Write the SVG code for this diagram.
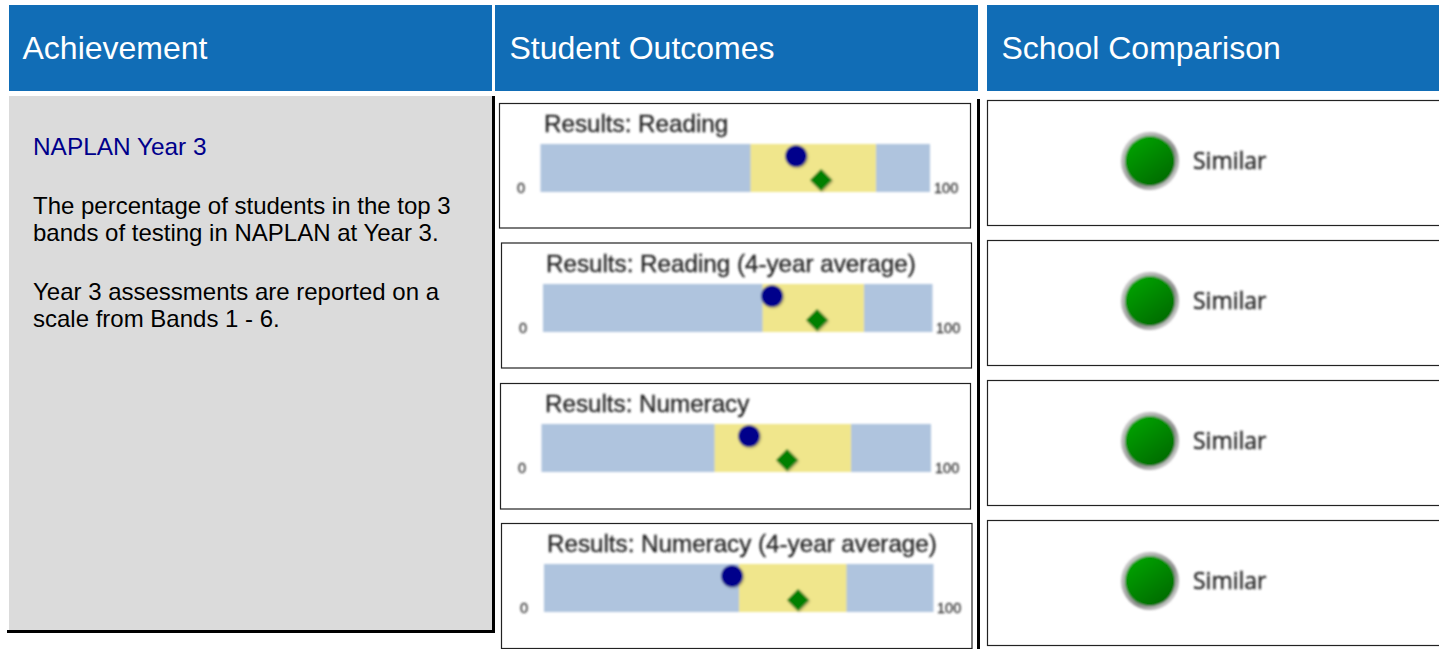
<svg xmlns="http://www.w3.org/2000/svg" width="1439" height="649" viewBox="0 0 1439 649">
<style>
.hdr{fill:#116db6}
.ht{font:32px "Liberation Sans",Arial,sans-serif;fill:#fff}
.body{font:24px "Liberation Sans",Arial,sans-serif;fill:#000}
.panel{fill:#fff;stroke:#222;stroke-width:1.2}
.bar{fill:#afc4de}
.band{fill:#f0e68c}
.dot{fill:#00008b}
.dia{fill:#008000}
.rt{font:24.2px "Liberation Sans",Arial,sans-serif;fill:#222;stroke:#222;stroke-width:.3}
.ax{font:14.5px "Liberation Sans",Arial,sans-serif;fill:#333;stroke:#333;stroke-width:.3}
.sim{font:23px "Open Sans",sans-serif;fill:#222;stroke:#222;stroke-width:.4}
.rim{fill:url(#rim)}
.led{fill:url(#led)}
.soft{filter:url(#soft)}
</style>
<defs>
<filter id="soft" x="-5%" y="-5%" width="110%" height="110%"><feGaussianBlur stdDeviation="0.8"/></filter>
<filter id="sh" x="-30%" y="-30%" width="160%" height="160%"><feDropShadow dx="1" dy="1" stdDeviation="0.8" flood-color="#000" flood-opacity="0.35"/></filter>
<linearGradient id="rim" x1="0" y1="0" x2="1" y2="1"><stop offset="0" stop-color="#d8d8d8"/><stop offset="0.6" stop-color="#8f8f8f"/><stop offset="1" stop-color="#e4e4e4"/></linearGradient>
<linearGradient id="led" x1="0.2" y1="0.1" x2="0.8" y2="0.95"><stop offset="0" stop-color="#00a000"/><stop offset="1" stop-color="#006a00"/></linearGradient>
</defs>
<rect width="1439" height="649" fill="#fff"/>
<g id="header-achievement"><rect class="hdr" x="9" y="5" width="483" height="86"/><text class="ht" x="22.500" y="59">Achievement</text></g>
<g id="header-outcomes"><rect class="hdr" x="495" y="5" width="483" height="86"/><text class="ht" x="509.500" y="59">Student Outcomes</text></g>
<g id="header-comparison"><rect class="hdr" x="987" y="5" width="452" height="86"/><text class="ht" x="1001.500" y="59">School Comparison</text></g>
<g id="description">
<rect x="9" y="96" width="483" height="534" fill="#dbdbdb"/>
<path d="M7 631.500H493.500V96" fill="none" stroke="#000" stroke-width="3"/>
<text class="body" x="33" y="155" style="fill:#00008b;font-size:24.4px">NAPLAN Year 3</text>
<text class="body" x="33" y="213.500">The percentage of students in the top 3</text>
<text class="body" x="33" y="240.500">bands of testing in NAPLAN at Year 3.</text>
<text class="body" x="33" y="299.500">Year 3 assessments are reported on a</text>
<text class="body" x="33" y="326.500">scale from Bands 1 - 6.</text>
</g>
<rect x="977" y="99" width="3" height="550" fill="#000"/>
<g id="outcome-1"><rect class="panel" x="499.500" y="103.500" width="471" height="124.500"/>
<g class="soft"><text class="rt" x="544" y="132">Results: Reading</text><rect class="bar" x="540.500" y="144" width="389.500" height="48"/><rect class="band" x="750.500" y="144" width="125.500" height="48"/><circle class="dot" cx="796" cy="156" r="10.800" filter="url(#sh)"/><path class="dia" d="M821 169L832 180L821 191L810 180Z" filter="url(#sh)"/><text class="ax" x="517" y="193">0</text><text class="ax" x="934" y="193">100</text></g></g>
<g id="outcome-2"><rect class="panel" x="501.500" y="243" width="470" height="125"/>
<g class="soft"><text class="rt" x="546" y="272">Results: Reading (4-year average)</text><rect class="bar" x="543" y="284" width="389.500" height="48"/><rect class="band" x="762.500" y="284" width="101.500" height="48"/><circle class="dot" cx="772" cy="296" r="10.800" filter="url(#sh)"/><path class="dia" d="M817 309L828 320L817 331L806 320Z" filter="url(#sh)"/><text class="ax" x="519" y="333">0</text><text class="ax" x="936" y="333">100</text></g></g>
<g id="outcome-3"><rect class="panel" x="500.500" y="383.500" width="470" height="125.500"/>
<g class="soft"><text class="rt" x="545" y="412">Results: Numeracy</text><rect class="bar" x="541.500" y="424" width="389.500" height="48"/><rect class="band" x="714.500" y="424" width="136.500" height="48"/><circle class="dot" cx="749" cy="436" r="10.800" filter="url(#sh)"/><path class="dia" d="M787 449L798 460L787 471L776 460Z" filter="url(#sh)"/><text class="ax" x="518" y="473">0</text><text class="ax" x="935" y="473">100</text></g></g>
<g id="outcome-4"><rect class="panel" x="501.500" y="523.500" width="470.500" height="125"/>
<g class="soft"><text class="rt" x="547" y="552">Results: Numeracy (4-year average)</text><rect class="bar" x="544" y="564" width="389.500" height="48"/><rect class="band" x="739" y="564" width="107.500" height="48"/><circle class="dot" cx="732" cy="576" r="10.800" filter="url(#sh)"/><path class="dia" d="M798 589L809 600L798 611L787 600Z" filter="url(#sh)"/><text class="ax" x="520" y="613">0</text><text class="ax" x="937" y="613">100</text></g></g>
<g id="comparison-1"><rect class="panel" x="987.500" y="100.500" width="460" height="125"/><g class="soft"><circle class="rim" cx="1150" cy="161" r="29"/><circle class="led" cx="1150" cy="161" r="25"/><text class="sim" x="1193" y="169">Similar</text></g></g>
<g id="comparison-2"><rect class="panel" x="987.500" y="240.500" width="460" height="125"/><g class="soft"><circle class="rim" cx="1150" cy="301" r="29"/><circle class="led" cx="1150" cy="301" r="25"/><text class="sim" x="1193" y="309">Similar</text></g></g>
<g id="comparison-3"><rect class="panel" x="987.500" y="380.500" width="460" height="125"/><g class="soft"><circle class="rim" cx="1150" cy="441" r="29"/><circle class="led" cx="1150" cy="441" r="25"/><text class="sim" x="1193" y="449">Similar</text></g></g>
<g id="comparison-4"><rect class="panel" x="987.500" y="520.500" width="460" height="125"/><g class="soft"><circle class="rim" cx="1150" cy="581" r="29"/><circle class="led" cx="1150" cy="581" r="25"/><text class="sim" x="1193" y="589">Similar</text></g></g>
<g id="connectors"/>
</svg>
